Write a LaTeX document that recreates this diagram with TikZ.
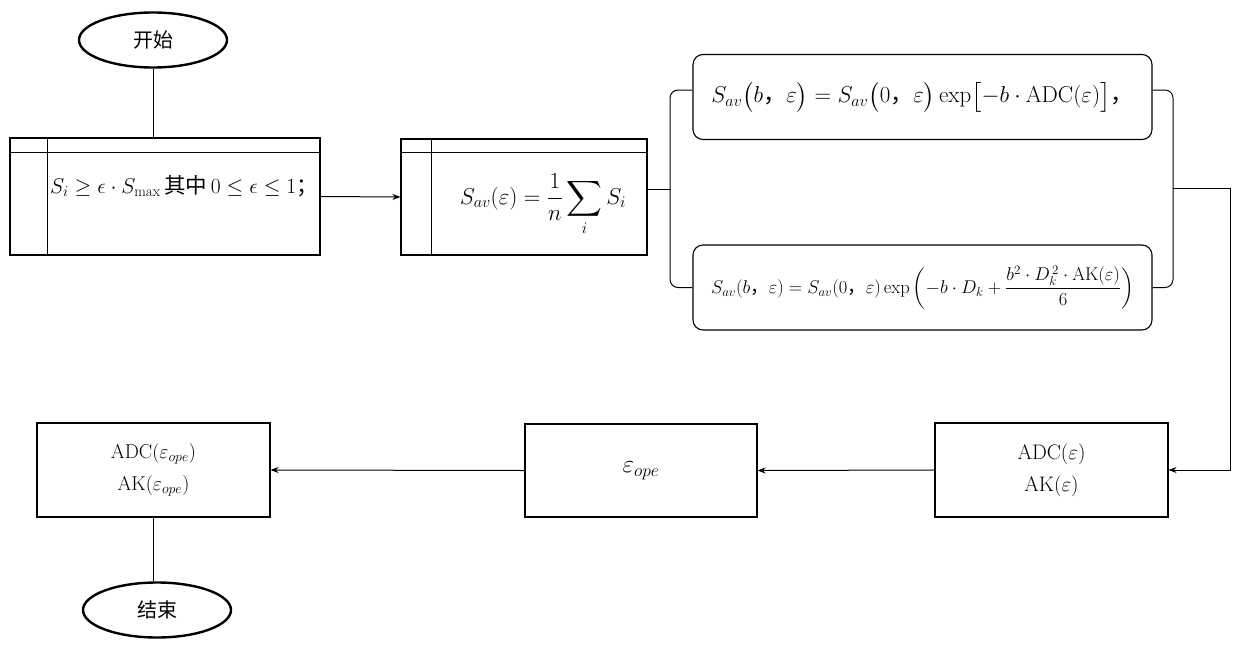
\documentclass[tikz,border=0pt]{standalone}
\usepackage{fix-cm}
\usepackage{amsmath}
\usepackage{fontspec}
\newfontfamily\cjk{Noto Sans CJK SC}
\usetikzlibrary{shapes.geometric,arrows.meta}
\begin{document}
\begin{tikzpicture}[x=1pt,y=-1pt,
  term/.style={ellipse,draw,line width=2.4pt,minimum width=148pt,minimum height=55pt,inner sep=0pt,font=\cjk\fontsize{20}{24}\selectfont},
  box/.style={rectangle,draw,line width=1.1pt,inner sep=0pt},
  rbox/.style={rectangle,draw,line width=1.1pt,rounded corners=10pt,inner sep=0pt,minimum width=459pt,minimum height=85pt},
  txt/.style={inner sep=0pt},
  conn/.style={line width=1pt},
  arr/.style={line width=1pt,-{Stealth[length=8pt,width=6pt]}}
]
\useasboundingbox (0,0) rectangle (1247,648);
% start
\node[term] (start) at (153,40) {开始};
% box 1
\node[box,minimum width=310pt,minimum height=117pt] (b1) at (165,196.5) {};
\draw[line width=1.1pt] ([yshift=-15pt]b1.north west) -- ([yshift=-15pt]b1.north east);
\draw[line width=1.1pt] ([xshift=38pt]b1.north west) -- ([xshift=38pt]b1.south west);
\node[txt,font=\fontsize{21.5}{26}\selectfont] (t1) at (184,186) {$S_i \geq \epsilon\cdot S_{\max}$\,{\cjk 其中}\,$0 \leq \epsilon \leq 1${\cjk ；}};
% box 2
\node[box,minimum width=246pt,minimum height=116pt] (b2) at (524,197) {};
\draw[line width=1.1pt] ([yshift=-14pt]b2.north west) -- ([yshift=-14pt]b2.north east);
\draw[line width=1.1pt] ([xshift=31pt]b2.north west) -- ([xshift=31pt]b2.south west);
\node[txt,font=\fontsize{23}{28}\selectfont] (t2) at (543,205) {$\displaystyle S_{av}(\varepsilon) = \frac{1}{n}\sum_i S_i$};
% rounded boxes
\node[rbox,font=\fontsize{23}{28}\selectfont] (r1) at (922.5,97)
  {$S_{av}\bigl(b\mbox{\cjk ，}\varepsilon\bigr) = S_{av}\bigl(0\mbox{\cjk ，}\varepsilon\bigr)\exp\bigl[-b\cdot\mathrm{ADC}(\varepsilon)\bigr]$\mbox{\cjk ，}};
\node[rbox,font=\fontsize{18.5}{22}\selectfont] (r2) at (922.5,287.5)
  {$S_{av}(b\mbox{\cjk ，}\varepsilon) = S_{av}(0\mbox{\cjk ，}\varepsilon)\exp\left(-b\cdot D_k + \dfrac{b^2\cdot D_k^{\,2}\cdot\mathrm{AK}(\varepsilon)}{6}\right)$};
% bottom row
\node[box,minimum width=233pt,minimum height=94pt,align=center,font=\fontsize{21}{32}\selectfont] (b3) at (1051.5,470)
  {$\mathrm{ADC}(\varepsilon)$\\$\mathrm{AK}(\varepsilon)$};
\node[box,minimum width=232pt,minimum height=93pt,font=\fontsize{25}{30}\selectfont] (b4) at (641,470.5)
  {$\varepsilon_{ope}$};
\node[box,minimum width=233pt,minimum height=94pt,align=center,font=\fontsize{20}{32}\selectfont] (b5) at (153.5,470)
  {$\mathrm{ADC}(\varepsilon_{ope})$\\$\mathrm{AK}(\varepsilon_{ope})$};
\node[term] (end) at (157,610) {结束};
% coordinates
\coordinate (L) at (670,189);
\coordinate (R) at (1173,188);
\coordinate (R2) at (1230,188);
% connectors
\draw[conn] (start) -- (start |- b1.north);
\draw[arr] (b1.east) -- (b2.west);
\draw[conn] (b2.east |- L) -- (L);
\draw[conn,rounded corners=8pt] ([yshift=7pt]r1.west) -| (L) |- (r2.west);
\draw[conn,rounded corners=8pt] ([yshift=7pt]r1.east) -| (R) |- (r2.east);
\draw[arr] (R) -- (R2) |- (b3.east);
\draw[arr] (b3.west) -- (b4.east);
\draw[arr] (b4.west) -- (b5.east);
\draw[conn] (b5.south) -- (b5.south |- end.north);
\end{tikzpicture}
\end{document}
